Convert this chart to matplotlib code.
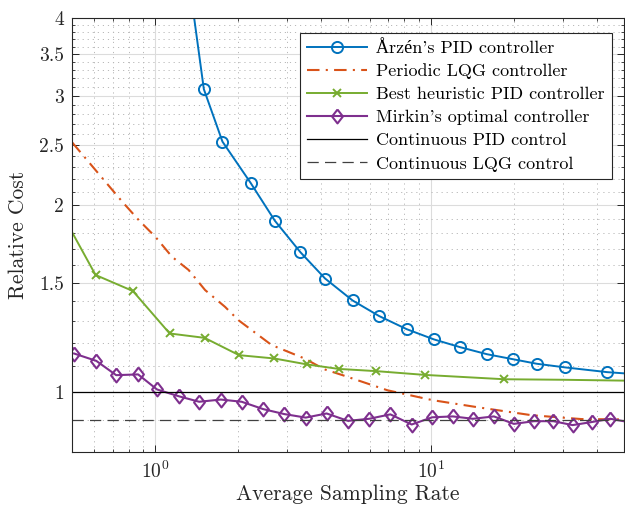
import numpy as np
import matplotlib
matplotlib.use("Agg")
import matplotlib.pyplot as plt
from matplotlib.ticker import FixedLocator, NullFormatter, LogLocator

plt.rcParams['font.family'] = ['cmr10', 'Liberation Serif', 'DejaVu Serif']
plt.rcParams['mathtext.fontset'] = 'cm'
plt.rcParams['axes.formatter.use_mathtext'] = True

# ---------------- data ----------------
arzen_x = [1.28, 1.499, 1.751, 2.216, 2.712, 3.357, 4.124, 5.186, 6.474, 8.152,
           10.23, 12.77, 15.93, 19.77, 24.14, 30.64, 43.45, 55.0]
arzen_y = [5.15, 3.075, 2.531, 2.171, 1.887, 1.679, 1.523, 1.404, 1.325, 1.262,
           1.215, 1.180, 1.150, 1.129, 1.110, 1.095, 1.076, 1.068]

lqg_x = [0.5, 0.758, 0.871, 1.0, 1.149, 1.320, 1.515, 1.789, 2.0, 2.638, 3.471,
         4.109, 4.772, 6.94, 10.08, 14.87, 23.15, 35.09, 49.6]
lqg_y = [2.522, 2.026, 1.891, 1.778, 1.651, 1.572, 1.459, 1.371, 1.305, 1.190,
         1.132, 1.087, 1.064, 1.006, 0.970, 0.944, 0.917, 0.904, 0.903]

heur_x = [0.445, 0.6072, 0.8289, 1.127, 1.508, 2.011, 2.698, 3.558, 4.616, 6.33,
          9.49, 18.41, 30.0, 55.0]
heur_y = [1.984, 1.543, 1.454, 1.242, 1.222, 1.146, 1.132, 1.107, 1.089, 1.080,
          1.065, 1.048, 1.046, 1.042]
heur_marked = [1, 2, 3, 4, 5, 6, 7, 8, 9, 10, 11]

mirkin_x = [0.5074, 0.6107, 0.7212, 0.866, 1.014, 1.215, 1.442, 1.727, 2.056,
            2.462, 2.932, 3.509, 4.178, 4.992, 5.960, 7.112, 8.496, 10.08, 11.98,
            14.17, 16.88, 19.94, 23.59, 27.73, 32.55, 38.13, 44.62, 52.6]
mirkin_y = [1.153, 1.122, 1.064, 1.067, 1.009, 0.984, 0.964, 0.972, 0.964,
            0.938, 0.921, 0.909, 0.923, 0.898, 0.905, 0.920, 0.886, 0.910, 0.913,
            0.905, 0.913, 0.888, 0.897, 0.897, 0.884, 0.894, 0.905, 0.893]

cont_pid = 1.0
cont_lqg = 0.9

labels = ["Årzén's PID controller", "Periodic LQG controller",
          "Best heuristic PID controller", "Mirkin's optimal controller",
          "Continuous PID control", "Continuous LQG control"]

xlim = (0.5, 50)
ylim = (0.8, 4)
yticks_major = [1, 1.5, 2, 2.5, 3, 3.5, 4]
ytick_labels = ["1", "1.5", "2", "2.5", "3", "3.5", "4"]

# ---------------- plot ----------------
fig = plt.figure(figsize=(6.25, 5.08), dpi=100)
ax = fig.add_axes([0.1157, 0.1102, 0.8827, 0.8538])

c_blue = "#0072BD"
c_orange = "#D95319"
c_green = "#77AC30"
c_purple = "#7E2F8E"

diamond = [(0, 1), (0.78, 0), (0, -1), (-0.78, 0), (0, 1)]

ax.plot(arzen_x, arzen_y, color=c_blue, lw=1.4, marker='o', ms=8,
        mfc='none', mew=1.4, label=labels[0])
ax.plot(lqg_x, lqg_y, color=c_orange, lw=1.5, ls=(0, (6, 3, 1, 3)),
        label=labels[1])
ax.plot(heur_x, heur_y, color=c_green, lw=1.4, marker='x', ms=6, mew=1.4,
        markevery=heur_marked, label=labels[2])
ax.plot(mirkin_x, mirkin_y, color=c_purple, lw=1.5, marker=diamond, ms=10,
        mfc='none', mew=1.5, label=labels[3])
ax.plot(xlim, [cont_pid, cont_pid], color='black', lw=0.9, label=labels[4])
ax.plot(xlim, [cont_lqg, cont_lqg], color='#404040', lw=0.9,
        ls=(0, (9, 5)), label=labels[5])

ax.set_xscale('log')
ax.set_yscale('log')
ax.set_xlim(*xlim)
ax.set_ylim(*ylim)

ax.yaxis.set_major_locator(FixedLocator(yticks_major))
ax.set_yticklabels(ytick_labels)
yminor = [v / 10 for v in range(8, 41) if v / 10 not in yticks_major]
ax.yaxis.set_minor_locator(FixedLocator(yminor))
ax.yaxis.set_minor_formatter(NullFormatter())
ax.xaxis.set_major_locator(LogLocator(base=10))
ax.xaxis.set_minor_locator(LogLocator(base=10, subs=np.arange(2, 10)))
ax.xaxis.set_minor_formatter(NullFormatter())

ax.grid(True, which='major', color='#dcdcdc', lw=0.8, ls='-')
ax.grid(True, which='minor', color='#b8b8b8', lw=0.7, ls=(0, (1.2, 4)))
ax.set_axisbelow(True)

ax.tick_params(which='both', direction='in', top=True, right=True,
               colors='#262626', labelcolor='#262626', labelsize=14)
ax.tick_params(which='major', length=5, width=0.7, pad=6)
ax.tick_params(which='minor', length=2.5, width=0.6)
for s in ax.spines.values():
    s.set_color('#262626')
    s.set_linewidth(0.8)

ax.set_xlabel("Average Sampling Rate", fontsize=15.5, color='#262626', labelpad=2)
ax.set_ylabel("Relative Cost", fontsize=15.5, color='#262626', labelpad=8)

leg = ax.legend(loc='upper right', bbox_to_anchor=(0.978, 0.966),
                borderaxespad=0, fontsize=13, frameon=True, fancybox=False,
                edgecolor='#262626', framealpha=1, handlelength=3.3,
                labelspacing=0.41, borderpad=0.4, handletextpad=0.5)
leg.get_frame().set_linewidth(0.8)

fig.savefig("out.png", dpi=100)
